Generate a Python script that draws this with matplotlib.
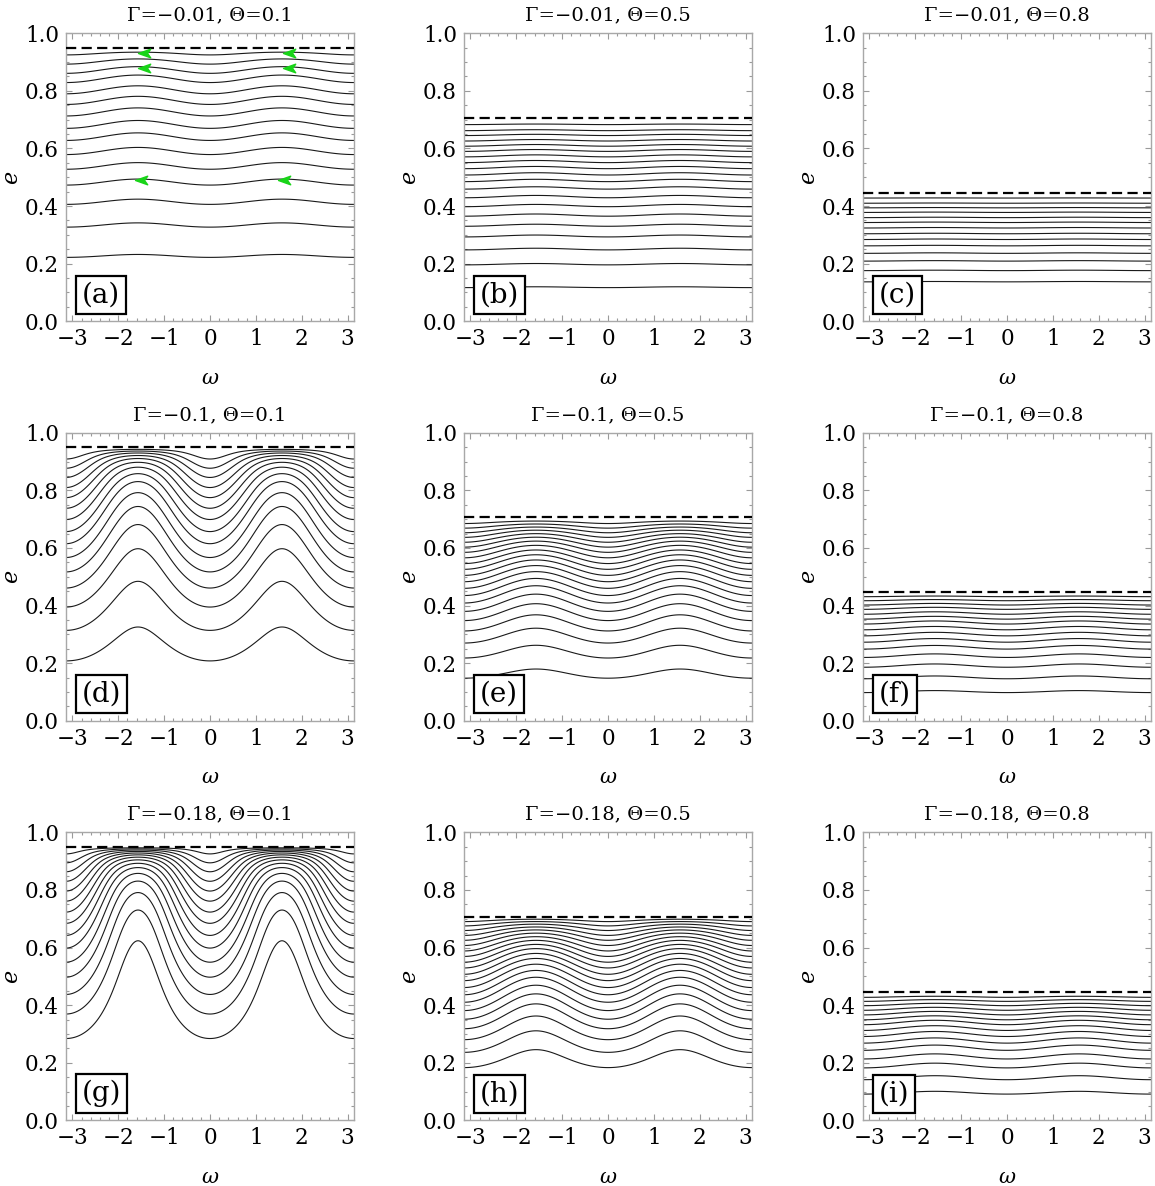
import numpy as np
import matplotlib
matplotlib.use("Agg")
import matplotlib.pyplot as plt
from matplotlib.path import Path
from matplotlib.ticker import MultipleLocator

plt.rcParams['font.family'] = ['DejaVu Serif']
plt.rcParams['mathtext.fontset'] = 'dejavuserif'

# ---- data ----
gammas = [-0.01, -0.1, -0.18]          # rows
thetas = [0.1, 0.5, 0.8]               # columns
dashed_e = [0.949, 0.707, 0.447]       # dashed line per column
panel_labels = ['(a)', '(b)', '(c)', '(d)', '(e)', '(f)', '(g)', '(h)', '(i)']

# eccentricity of each level curve where it meets the frame edge (omega = +-pi)
edge_a = [0.222, 0.327, 0.406, 0.473, 0.528, 0.579, 0.628, 0.670, 0.713, 0.753,
          0.790, 0.829, 0.861, 0.893, 0.925]
edge_b = [0.117, 0.196, 0.248, 0.293, 0.330, 0.365, 0.398, 0.429, 0.459, 0.485,
          0.508, 0.530, 0.551, 0.571, 0.590, 0.608, 0.626, 0.645, 0.662, 0.683]
edge_c = [0.137, 0.176, 0.209, 0.236, 0.262, 0.284, 0.304, 0.324, 0.343, 0.360,
          0.378, 0.394, 0.410, 0.428]
edge_d = [0.208, 0.314, 0.395, 0.461, 0.517, 0.567, 0.615, 0.657, 0.699, 0.738,
          0.775, 0.810, 0.845, 0.877, 0.909]
edge_e = [0.148, 0.218, 0.270, 0.312, 0.348, 0.380, 0.409, 0.435, 0.460, 0.483,
          0.505, 0.526, 0.546, 0.566, 0.585, 0.603, 0.620, 0.637, 0.653, 0.669, 0.685]
edge_f = [0.098, 0.146, 0.186, 0.220, 0.249, 0.273, 0.295, 0.316, 0.336, 0.353,
          0.370, 0.387, 0.402, 0.417, 0.431]
edge_g = [0.284, 0.369, 0.437, 0.497, 0.549, 0.598, 0.642, 0.684, 0.723, 0.761,
          0.796, 0.830, 0.863, 0.894, 0.925]
edge_h = [0.183, 0.236, 0.280, 0.318, 0.351, 0.381, 0.410, 0.436, 0.461, 0.485,
          0.507, 0.529, 0.549, 0.569, 0.588, 0.607, 0.625, 0.642, 0.659, 0.675, 0.690]
edge_i = [0.091, 0.141, 0.182, 0.213, 0.243, 0.268, 0.291, 0.312, 0.332, 0.349,
          0.366, 0.382, 0.398, 0.413, 0.427]
edges = [[edge_a, edge_b, edge_c], [edge_d, edge_e, edge_f], [edge_g, edge_h, edge_i]]

# green direction arrows in panel (a)
arrow_omega = [-1.42, -1.42, -1.49, 1.745, 1.745, 1.64]
arrow_e = [0.931, 0.881, 0.492, 0.931, 0.881, 0.492]

x_ticks = [-3, -2, -1, 0, 1, 2, 3]
y_ticks = [0.0, 0.2, 0.4, 0.6, 0.8, 1.0]


def hamiltonian(e, w, G, T):
    u = e ** 2
    c2 = T / (1.0 - u)
    return (2 + 3 * u) * (1 - 3 * G * c2) - 15 * G * u * (1 - c2) * np.cos(2 * w)


arrow_path = Path([(-1.0, 0.0), (0.75, 0.62), (0.3, 0.0), (0.75, -0.62), (-1.0, 0.0)],
                  [Path.MOVETO, Path.LINETO, Path.LINETO, Path.LINETO, Path.CLOSEPOLY])

W_PX, H_PX = 1155, 1186
fig = plt.figure(figsize=(W_PX / 100, H_PX / 100), dpi=100)
lefts = [66, 464, 863]
tops = [33.3, 432.8, 832.3]
size = 288

for r in range(3):
    for c in range(3):
        ax = fig.add_axes([lefts[c] / W_PX, (H_PX - tops[r] - size) / H_PX,
                           size / W_PX, size / H_PX])
        G, T = gammas[r], thetas[c]
        emax = dashed_e[c]
        w = np.linspace(-np.pi, np.pi, 801)
        e = np.linspace(0, min(emax, np.sqrt(1 - T)), 600)
        Wg, Eg = np.meshgrid(w, e)
        Hg = hamiltonian(Eg, Wg, G, T)
        levels = hamiltonian(np.array(edges[r][c]), np.pi, G, T)
        ax.contour(Wg, Eg, Hg, levels=np.sort(levels), colors='#1a1a1a',
                   linewidths=0.8, linestyles='solid')
        ax.axhline(emax, color='black', lw=1.6, ls=(0, (4.6, 2.4)), zorder=3)

        if r == 0 and c == 0:
            ax.plot(arrow_omega, arrow_e, ls='none', marker=arrow_path, ms=10,
                    color='#19d419', mec='#19d419', zorder=4)

        ax.set_xlim(-np.pi, np.pi)
        ax.set_ylim(0, 1)
        ax.set_xticks(x_ticks)
        ax.set_xticklabels([str(t).replace('-', '\u2212') for t in x_ticks])
        ax.set_yticks(y_ticks)
        ax.set_yticklabels([f"{t:.1f}" for t in y_ticks])
        ax.xaxis.set_minor_locator(MultipleLocator(0.2))
        ax.yaxis.set_minor_locator(MultipleLocator(0.05))
        ax.tick_params(which='both', direction='in', top=True, right=True,
                       color='#9a9a9a', width=0.8, labelsize=15.5, pad=5)
        ax.tick_params(which='major', length=4.5)
        ax.tick_params(which='minor', length=2.5)
        for sp in ax.spines.values():
            sp.set_color('#a8a8a8')
            sp.set_linewidth(1.0)

        title = f"\u0393={G}, \u0398={T}".replace('-', '\u2212')
        ax.set_title(title, fontsize=14, pad=9)
        ax.set_xlabel('\u03c9', fontsize=15, style='italic', va='center')
        ax.xaxis.set_label_coords(0.5, -0.198)
        ax.set_ylabel('e', fontsize=16, style='italic', va='center')
        ax.yaxis.set_label_coords(-0.192, 0.5)

        ax.text(0.055, 0.045, panel_labels[r * 3 + c], transform=ax.transAxes,
                fontsize=20, ha='left', va='bottom', zorder=6,
                bbox=dict(boxstyle='square,pad=0.2', fc='white', ec='black', lw=1.6))

fig.savefig('out.png', dpi=100)
